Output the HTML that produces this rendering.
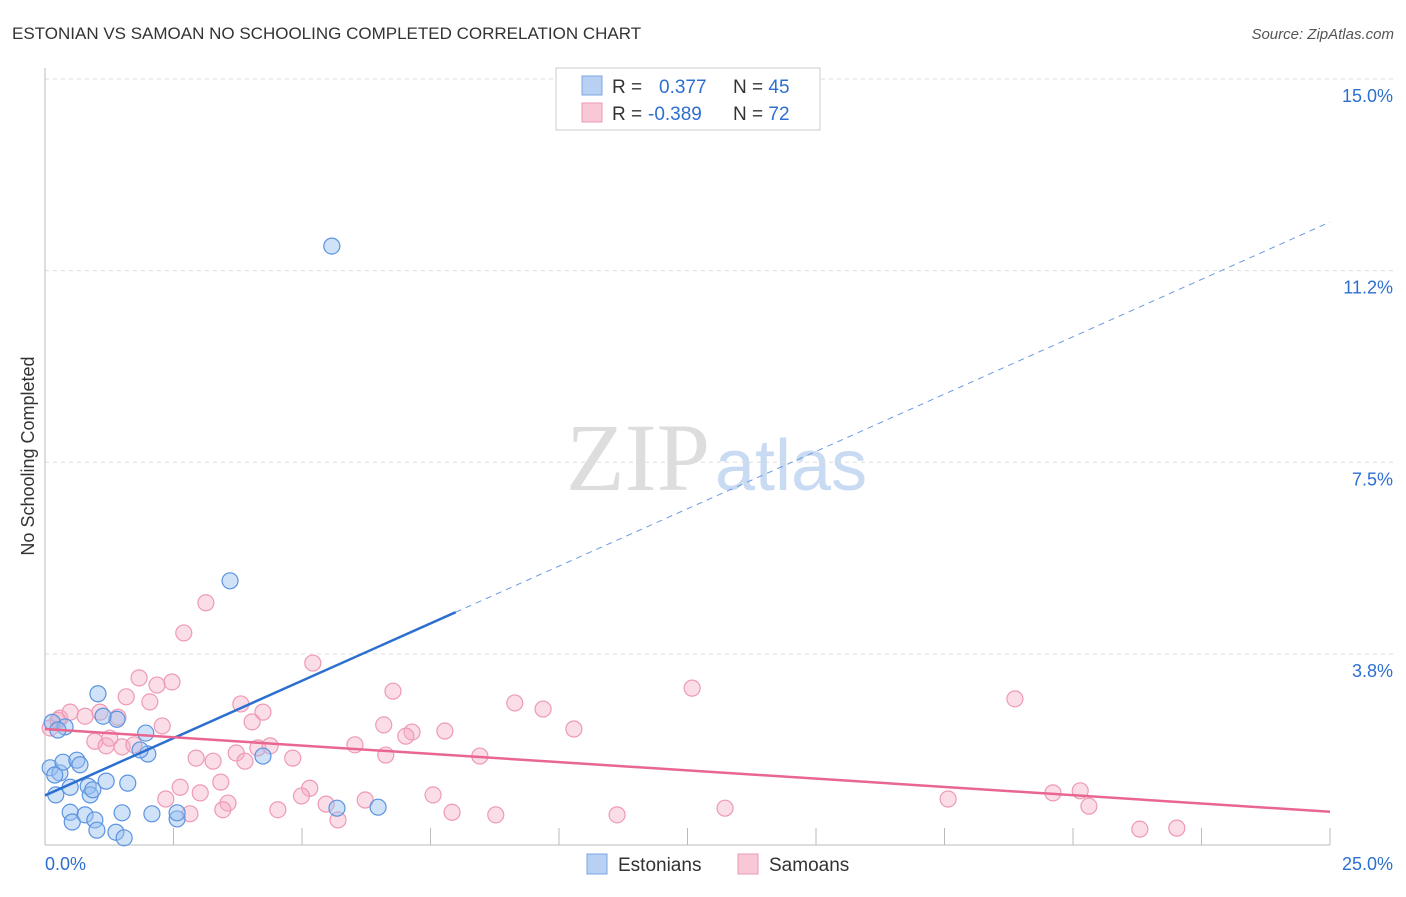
<!DOCTYPE html>
<html><head><meta charset="utf-8"><style>
body{margin:0;background:#fff;font-family:"Liberation Sans",sans-serif;}
</style></head><body>
<svg width="1406" height="892" xmlns="http://www.w3.org/2000/svg">
<text x="12" y="39" font-size="17" fill="#333">ESTONIAN VS SAMOAN NO SCHOOLING COMPLETED CORRELATION CHART</text>
<text x="1394" y="39" font-size="15" fill="#555" font-style="italic" text-anchor="end">Source: ZipAtlas.com</text>
<text x="710" y="490" font-size="96" fill="#ddd" font-family="Liberation Serif" text-anchor="end">ZIP</text>
<text x="715" y="490" font-size="72" fill="#c9dbf2">atlas</text>
<g id="grid"></g>
<g id="axes"></g>
<text transform="translate(34,456) rotate(-90)" font-size="18" fill="#333" text-anchor="middle">No Schooling Completed</text>
<g id="pts"></g>
<g id="lines"></g>
<g>
<rect x="556" y="68" width="264" height="62" fill="#fff" stroke="#ccc"/>
<rect x="582" y="76" width="20" height="19" fill="#b8d1f3" stroke="#7aa7e6"/>
<rect x="582" y="103" width="20" height="19" fill="#f8c8d6" stroke="#ee9ab3"/>
<text x="612" y="93" font-size="19" fill="#333">R = <tspan fill="#2d6fd0" x="659">0.377</tspan><tspan fill="#333" x="733">N = </tspan><tspan fill="#2d6fd0">45</tspan></text>
<text x="612" y="120" font-size="19" fill="#333">R = <tspan fill="#2d6fd0" x="648">-0.389</tspan><tspan fill="#333" x="733">N = </tspan><tspan fill="#2d6fd0">72</tspan></text>
</g>
<g>
<rect x="587" y="854" width="20" height="20" fill="#b8d1f3" stroke="#7aa7e6"/>
<text x="618" y="871" font-size="19" fill="#333">Estonians</text>
<rect x="738" y="854" width="20" height="20" fill="#f8c8d6" stroke="#ee9ab3"/>
<text x="769" y="871" font-size="19" fill="#333">Samoans</text>
</g>
</svg>
<script>
const yTicks=[3.75,7.5,11.25,15];
const yTickLabels=["3.8%","7.5%","11.2%","15.0%"];
const xTickLabels=["0.0%","25.0%"];
const estX=[5.58,3.60,1.03,1.40,0.14,0.39,1.13,1.96,2.00,1.85,4.24,0.10,0.29,0.35,0.62,0.68,0.19,0.21,0.49,0.84,0.88,1.19,1.61,0.93,0.49,0.53,0.78,0.97,1.01,1.38,1.50,1.54,2.08,2.57,2.57,5.68,6.48,0.25];
const estY=[11.73,5.18,2.97,2.47,2.41,2.32,2.53,2.20,1.79,1.87,1.75,1.52,1.42,1.63,1.67,1.58,1.38,0.99,1.14,1.16,0.99,1.26,1.22,1.09,0.65,0.46,0.60,0.50,0.30,0.26,0.64,0.15,0.62,0.52,0.64,0.73,0.75,2.26];
const samX=[3.13,2.70,5.21,1.83,2.18,2.47,1.58,2.04,6.77,12.59,18.87,9.14,9.69,3.81,4.24,0.29,0.49,0.78,1.07,1.42,2.28,4.03,6.59,7.14,7.02,7.78,10.29,0.97,1.19,1.50,1.73,1.26,3.72,4.14,4.38,6.03,6.63,4.82,8.46,2.94,3.27,3.89,3.42,2.63,5.15,4.99,3.02,2.35,3.56,3.46,2.82,4.53,5.47,5.70,6.23,7.55,7.92,8.77,11.13,13.23,17.57,19.61,20.14,20.31,21.30,22.02,0.10,0.25];
const samY=[4.75,4.16,3.57,3.28,3.14,3.20,2.91,2.81,3.02,3.08,2.87,2.79,2.67,2.77,2.61,2.49,2.61,2.53,2.61,2.51,2.34,2.42,2.36,2.22,2.14,2.24,2.28,2.04,1.95,1.93,1.97,2.10,1.81,1.91,1.95,1.97,1.77,1.71,1.75,1.71,1.65,1.65,1.24,1.14,1.12,0.97,1.03,0.91,0.83,0.70,0.62,0.70,0.81,0.50,0.89,0.99,0.65,0.60,0.60,0.73,0.91,1.03,1.07,0.77,0.32,0.34,2.30,2.45];
const estTrend=[0.98,12.20];
const samTrend=[2.28,0.66];
const NS="http://www.w3.org/2000/svg";
const X=v=>45+v/25*1285, Y=v=>845.5-v/15*766.5;
function mk(p,t,a){const e=document.createElementNS(NS,t);for(const k in a)e.setAttribute(k,a[k]);p.appendChild(e);return e;}
const grid=document.getElementById('grid'),axes=document.getElementById('axes');
yTicks.forEach((t,i)=>{
 const l=mk(grid,'line',{x1:45,x2:1395,y1:Y(t),y2:Y(t),stroke:'#ddd','stroke-dasharray':'4,4'});
 
 
 const tx=mk(grid,'text',{x:1393,y:Y(t)+23,'font-size':18,fill:'#2d6fd0','text-anchor':'end'});
 tx.textContent=yTickLabels[i];
 
 
});
const ya=mk(axes,'line',{x1:45,x2:45,y1:68,y2:845,stroke:'#bbb'});


const xa=mk(axes,'line',{x1:45,x2:1330,y1:845,y2:845,stroke:'#bbb'});


for(let i=1;i<=10;i++){const t=mk(axes,'line',{x1:X(i*2.5),x2:X(i*2.5),y1:828,y2:845,stroke:'#bbb'});
 
 }
[[0,45,'start'],[25,1393,'end']].forEach((a,i)=>{const t=mk(axes,'text',{x:a[1],y:870,'font-size':18,fill:'#2d6fd0','text-anchor':a[2]});t.textContent=xTickLabels[i];
 
 });
const pts=document.getElementById('pts');
samX.forEach((x,i)=>{const c=mk(pts,'circle',{cx:X(x),cy:Y(samY[i]),r:8,fill:'rgba(246,170,195,0.4)',stroke:'#ee9ab3','stroke-width':1.2});
 
 });
estX.forEach((x,i)=>{const c=mk(pts,'circle',{cx:X(x),cy:Y(estY[i]),r:8,fill:'rgba(150,190,240,0.45)',stroke:'#5b93e0','stroke-width':1.2});
 
 });
const lines=document.getElementById('lines');
const fx=7.99, fy=estTrend[0]+(estTrend[1]-estTrend[0])*fx/25;
const l1=mk(lines,'line',{x1:X(0),y1:Y(estTrend[0]),x2:X(fx),y2:Y(fy),stroke:'#2d6fd0','stroke-width':2.5});


const l2=mk(lines,'line',{x1:X(fx),y1:Y(fy),x2:X(25),y2:Y(estTrend[1]),stroke:'#6a9be0','stroke-width':1,'stroke-dasharray':'6,5'});


const l3=mk(lines,'line',{x1:X(0),y1:Y(samTrend[0]),x2:X(25),y2:Y(samTrend[1]),stroke:'#e8668f','stroke-width':2.5});


</script>
</body></html>
